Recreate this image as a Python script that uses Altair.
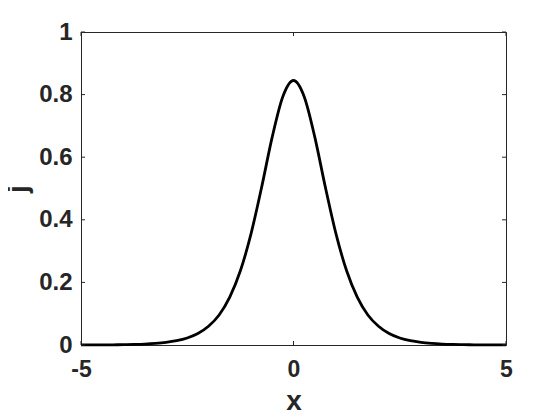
import altair as alt
import pandas as pd

xs = [-5.0, -4.75, -4.5, -4.25, -4.0, -3.75, -3.5, -3.25, -3.0, -2.75, -2.5, -2.25,
      -2.0, -1.75, -1.5, -1.25, -1.0, -0.75, -0.5, -0.25, 0.0,
      0.25, 0.5, 0.75, 1.0, 1.25, 1.5, 1.75, 2.0, 2.25, 2.5, 2.75, 3.0,
      3.25, 3.5, 3.75, 4.0, 4.25, 4.5, 4.75, 5.0]
js = [0.0002, 0.0003, 0.0004, 0.0007, 0.0011, 0.0019, 0.0031, 0.0051, 0.0083, 0.0137, 0.0225, 0.0367,
      0.060, 0.096, 0.153, 0.237, 0.355, 0.504, 0.665, 0.794, 0.845,
      0.794, 0.665, 0.504, 0.355, 0.237, 0.153, 0.096, 0.060, 0.0367, 0.0225, 0.0137, 0.0083,
      0.0051, 0.0031, 0.0019, 0.0011, 0.0007, 0.0004, 0.0003, 0.0002]

x_ticks = [-5, 0, 5]
y_ticks = [0, 0.2, 0.4, 0.6, 0.8, 1]

df = pd.DataFrame({"x": xs, "j": js})
xt = pd.DataFrame({"t": x_ticks})
yt = pd.DataFrame({"t": y_ticks})

FONT = "Liberation Sans"
INK = "#262626"
W, H = 425, 313

xscale = alt.Scale(domain=[-5, 5], nice=False, zero=False)
yscale = alt.Scale(domain=[0, 1], nice=False, zero=False)

x_axis = alt.Axis(values=x_ticks, labelExpr="'' + datum.value", labelFlush=False,
                  labelFontSize=23, labelPadding=13, titlePadding=6)
y_axis = alt.Axis(values=y_ticks, format=".1~f", labelFlush=False,
                  labelFontSize=24, labelPadding=9, titlePadding=6)

line = alt.Chart(df).mark_line(color="black", strokeWidth=2.8, interpolate="monotone").encode(
    x=alt.X("x:Q", scale=xscale, title="x", axis=x_axis),
    y=alt.Y("j:Q", scale=yscale, title="j", axis=y_axis),
)

tick_len = 4
xt_bottom = alt.Chart(xt).mark_rule(color=INK, strokeWidth=1).encode(
    x=alt.X("t:Q", scale=xscale, title="x", axis=x_axis), y=alt.value(H), y2=alt.value(H - tick_len))
xt_top = alt.Chart(xt).mark_rule(color=INK, strokeWidth=1).encode(
    x=alt.X("t:Q", scale=xscale, title="x", axis=x_axis), y=alt.value(0), y2=alt.value(tick_len))
yt_left = alt.Chart(yt).mark_rule(color=INK, strokeWidth=1).encode(
    y=alt.Y("t:Q", scale=yscale, title="j", axis=y_axis), x=alt.value(0), x2=alt.value(tick_len))
yt_right = alt.Chart(yt).mark_rule(color=INK, strokeWidth=1).encode(
    y=alt.Y("t:Q", scale=yscale, title="j", axis=y_axis), x=alt.value(W), x2=alt.value(W - tick_len))

chart = alt.layer(line, xt_bottom, xt_top, yt_left, yt_right).properties(
    width=W, height=H,
    autosize=alt.AutoSizeParams(type="none"),
    padding={"left": 73, "top": 24, "right": 46, "bottom": 75},
).configure(background="white").configure_view(stroke=INK, strokeWidth=1).configure_axis(
    ticks=False, grid=False, domainColor=INK, labelColor=INK,
    labelFont=FONT, labelFontWeight="bold",
    titleFont=FONT, titleFontSize=28, titleFontWeight="bold", titleColor=INK,
)

chart.save("out.html", embed_options={"renderer": "svg", "actions": False})
